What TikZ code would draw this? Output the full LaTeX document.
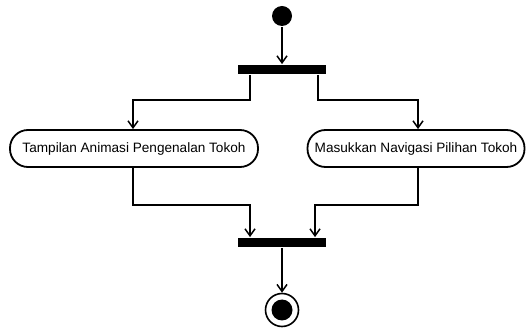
\documentclass[tikz,border=0pt]{standalone}
\usepackage{fontspec}
\setmainfont{Liberation Sans}
\usetikzlibrary{arrows.meta}
\begin{document}
\begin{tikzpicture}[x=1pt,y=-1pt,
  line width=1.8pt,
  flow/.style={-{Straight Barb[length=7pt,width=10pt,line width=1.5pt]}},
  action/.style={draw,rounded corners=18pt,minimum height=37pt,inner sep=0pt,
    font=\fontsize{13.6}{15}\selectfont},
  syncbar/.style={fill=black,minimum width=88pt,minimum height=9pt,inner sep=0pt}]
  \useasboundingbox (0,0) rectangle (527,328);
  % start and final states
  \node[circle,fill=black,minimum size=20pt,inner sep=0pt] (start) at (282,16) {};
  \node[syncbar] (fork) at (282,69.5) {};
  \node[syncbar] (join) at (282,242.5) {};
  \node[circle,draw,line width=1.6pt,minimum size=33pt,inner sep=0pt] (final) at (282,310) {};
  \node[circle,fill=black,minimum size=21pt,inner sep=0pt] at (final) {};
  % actions
  \node[action,minimum width=248pt] (anim) at (134,148.5) {Tampilan Animasi Pengenalan Tokoh};
  \node[action,minimum width=217pt] (nav) at (416,148.5) {Masukkan Navigasi Pilihan Tokoh};
  % control flow
  \draw[flow] (start) -- (fork);
  \draw[flow] (fork.south west) ++(13,0) |- (133,100) -- (anim.north -| 133,0);
  \draw[flow] (fork.south east) ++(-9,0) |- (418,100) -- (nav.north -| 418,0);
  \draw[flow] (anim.south -| 133,0) |- (250,205) -- (join.north -| 250,0);
  \draw[flow] (nav.south -| 418,0) |- (315,205) -- (join.north -| 315,0);
  \draw[flow] (join) -- (final);
\end{tikzpicture}
\end{document}
